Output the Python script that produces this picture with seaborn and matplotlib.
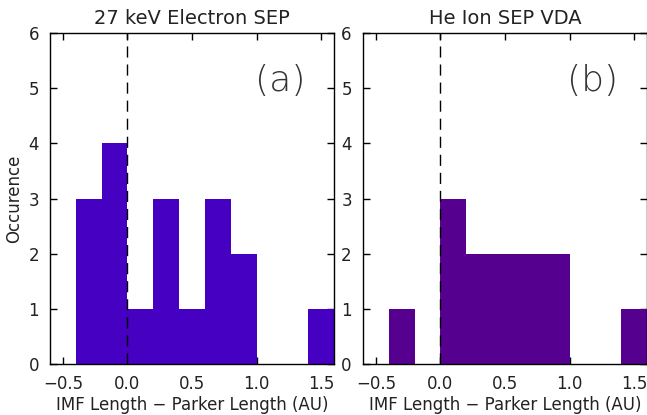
import numpy as np
import pandas as pd
import matplotlib
matplotlib.use('Agg')
import matplotlib.pyplot as plt
import seaborn as sns

# histogram bins (AU) and counts
bin_edges = [-0.4, -0.2, 0.0, 0.2, 0.4, 0.6, 0.8, 1.0, 1.2, 1.4, 1.6]
counts_electron = [3, 4, 1, 3, 1, 3, 2, 0, 0, 1]
counts_he = [1, 0, 3, 2, 2, 2, 2, 0, 0, 1]
titles = ['27 keV Electron SEP', 'He Ion SEP VDA']
labels = ['(a)', '(b)']
colors = ['#4600C2', '#560090']

sns.set_style('ticks')
plt.rcParams['font.family'] = ['DejaVu Sans']

fig = plt.figure(figsize=(6.47, 4.15), dpi=100)
ax_a = fig.add_axes([0.0773, 0.122, 0.439, 0.799])
ax_b = fig.add_axes([0.561, 0.122, 0.439, 0.799])

centers = [(bin_edges[i] + bin_edges[i + 1]) / 2 for i in range(len(bin_edges) - 1)]
txt = '#222222'

for ax, counts, title, lab, col in zip([ax_a, ax_b], [counts_electron, counts_he],
                                       titles, labels, colors):
    df = pd.DataFrame({'x': centers, 'n': counts})
    sns.histplot(data=df, x='x', weights='n', bins=bin_edges, ax=ax,
                 color=col, alpha=1, linewidth=0, element='bars')
    ax.axvline(0, color='black', ls=(0, (8, 5)), lw=1)
    ax.set_xlim(-0.6, 1.6)
    ax.set_ylim(0, 6)
    ax.set_xticks([-0.5, 0.0, 0.5, 1.0, 1.5])
    ax.set_xticklabels(['\u22120.5', '0.0', '0.5', '1.0', '1.5'])
    ax.set_yticks(range(7))
    ax.tick_params(direction='in', top=True, right=True, length=5, width=1,
                   labelsize=12, pad=8, colors='black', labelcolor=txt)
    for s in ax.spines.values():
        s.set_linewidth(1)
        s.set_color('black')
    ax.set_title(title, fontsize=14, pad=6, color=txt)
    ax.set_xlabel('IMF Length \u2212 Parker Length (AU)', fontsize=12,
                  labelpad=2, color=txt)
    ax.set_ylabel('')
    ax.text(0.81, 0.855, lab, transform=ax.transAxes, fontsize=26,
            ha='center', va='center', color='#333333', fontweight='light')

ax_a.set_ylabel('Occurence', fontsize=12, color=txt)

fig.savefig('out.png', dpi=100)
